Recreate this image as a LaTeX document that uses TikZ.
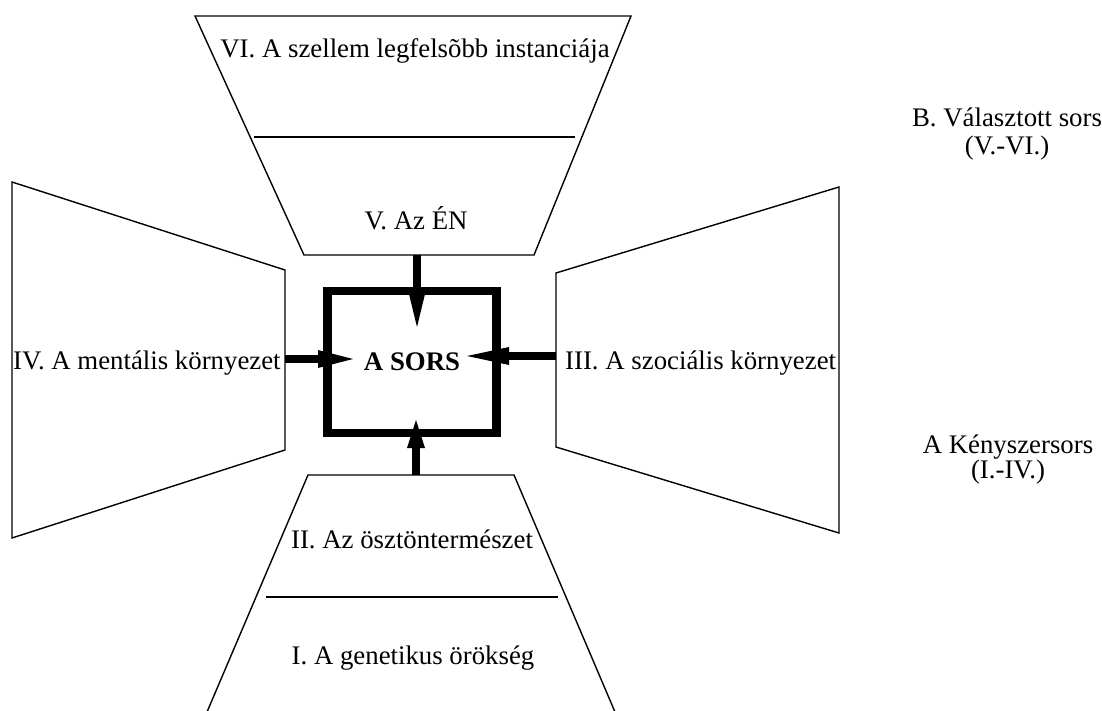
\documentclass[tikz,border=0pt]{standalone}
\usepackage{fontspec}
\setmainfont{Liberation Serif}
\usetikzlibrary{arrows.meta}
\begin{document}
\begin{tikzpicture}[x=1pt,y=-1pt,
  trap/.style={draw=black,line width=1.4pt,line join=miter},
  divider/.style={draw=black,line width=1.4pt},
  lbl/.style={inner sep=0pt,font=\fontsize{26.8}{30}\selectfont,anchor=base},
  sorsbox/.style={draw=black,line width=8.5pt,minimum width=169pt,minimum height=142pt,inner sep=0pt,font=\fontsize{26.8}{30}\selectfont\bfseries},
  bigarrow/.style={line width=8pt,-{Triangle[length=#1 0 0,width=18pt 0 0,line width=0pt 0 0]}},
  bigarrow/.default=36pt]
\useasboundingbox[fill=white] (0,0) rectangle (1102,711);

% top trapezoid (VI / V)
\draw[trap] (195,16) -- (631,16) -- (534,255) -- (304,255) -- cycle;
\draw[divider] (254,137) -- (575,137);
\node[lbl] (vi) at (415,58) {VI. A szellem legfelsõbb instanciája};
\node[lbl] (v) at (416,230) {V. Az ÉN};

% left trapezoid (IV)
\draw[trap] (12,182) -- (285,270) -- (285,450) -- (12,538) -- cycle;
\node[lbl,anchor=base west] (iv) at (13,369) {IV. A mentális környezet};

% right trapezoid (III)
\draw[trap] (839,187) -- (556,273) -- (556,447) -- (839,533) -- cycle;
\node[lbl,anchor=base west] (iii) at (565,369) {III. A szociális környezet};

% bottom trapezoid (II / I)
\draw[trap] (207,712) -- (308,475) -- (514,475) -- (615,712);
\draw[divider] (266,597) -- (558,597);
\node[lbl] (ii) at (412,548) {II. Az ösztöntermészet};
\node[lbl] (i) at (413,664) {I. A genetikus örökség};

% center box
\node[sorsbox] (sors) at (412,362) {A SORS};

% arrow endpoints
\coordinate (topbase) at (417,255);
\coordinate (toptip) at (417,327);
\coordinate (leftbase) at (285,359);
\coordinate (lefttip) at (353,359);
\coordinate (rightbase) at (556,356);
\coordinate (righttip) at (467,356);
\coordinate (botbase) at (416,475);
\coordinate (bottip) at (416,420);

\draw[bigarrow=37pt] (topbase) -- (toptip);
\draw[bigarrow=35pt] (leftbase) -- (lefttip);
\draw[bigarrow=42pt] (rightbase) -- (righttip);
\draw[bigarrow=28pt] (botbase) -- (bottip);

% side labels
\node[lbl] (b1) at (1007,127) {B. Választott sors};
\node[lbl] (b2) at (1007,155) {(V.-VI.)};
\node[lbl] (a1) at (1008,453) {A Kényszersors};
\node[lbl] (a2) at (1008,478) {(I.-IV.)};
\end{tikzpicture}
\end{document}
